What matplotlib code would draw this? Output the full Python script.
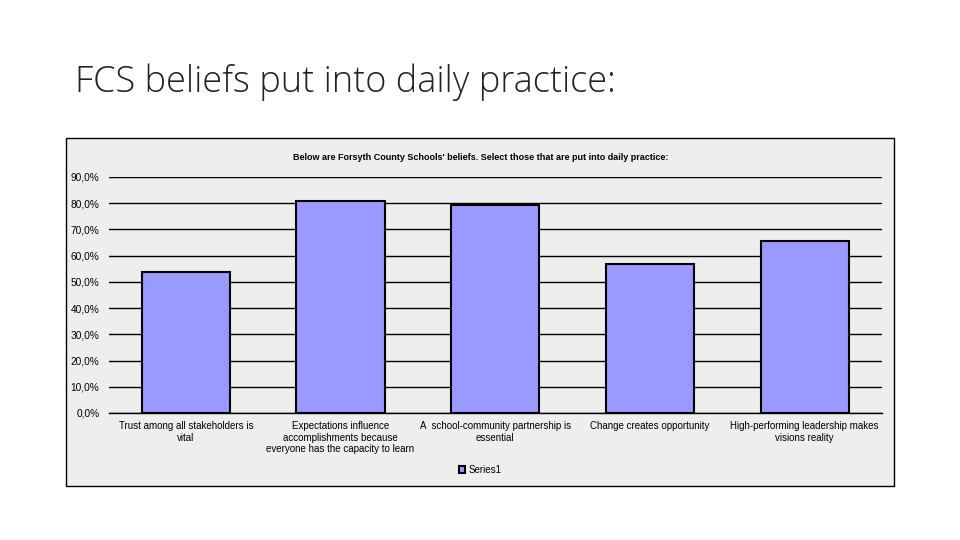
import matplotlib.pyplot as plt
import matplotlib.ticker as mticker
from matplotlib.patches import Rectangle

# data
categories = [
    "Trust among all stakeholders is\nvital",
    "Expectations influence\naccomplishments because\neveryone has the capacity to learn",
    "A  school-community partnership is\nessential",
    "Change creates opportunity",
    "High-performing leadership makes\nvisions reality",
]
values = [53.7, 81.0, 79.2, 56.7, 65.5]
series_name = "Series1"

W, H = 960, 540
fig = plt.figure(figsize=(9.6, 5.4), dpi=100)
fig.patch.set_facecolor("white")

# slide title
fig.text(75 / W, 1 - 82 / H, "FCS beliefs put into daily practice:",
         fontsize=26, family="Open Sans", fontweight="light",
         color="#222222", va="center", ha="left")

# chart frame
frame = Rectangle((66 / W, 1 - 486 / H), (894 - 66) / W, (486 - 138) / H,
                  transform=fig.transFigure, facecolor="#EEEEEE",
                  edgecolor="black", linewidth=1.0, zorder=0)
fig.patches.append(frame)

fig.text(481 / W, 1 - 157 / H,
         "Below are Forsyth County Schools' beliefs. Select those that are put into daily practice:",
         fontsize=6.5, fontweight="bold", ha="center", va="center",
         family="Liberation Sans", zorder=5)

ax = fig.add_axes([108.5 / W, 1 - 413 / H, (882 - 108.5) / W, (413 - 177) / H])
ax.set_zorder(3)
ax.patch.set_alpha(0)

x = list(range(len(categories)))
ax.bar(x, values, width=0.57, color="#9999FF", edgecolor="black",
       linewidth=1.5, zorder=3, label=series_name)

ax.set_xlim(-0.5, len(categories) - 0.5)
ax.set_ylim(0, 90)
ax.set_yticks(range(0, 91, 10))
ax.yaxis.set_major_formatter(mticker.FuncFormatter(
    lambda v, p: f"{v:.1f}%".replace(".", ",")))
ax.grid(axis="y", color="black", linewidth=1.0, zorder=0)
ax.set_axisbelow(True)
for s in ["top", "right", "left"]:
    ax.spines[s].set_visible(False)
ax.spines["bottom"].set_linewidth(1.0)
ax.tick_params(axis="y", length=0, labelsize=7.3, pad=6.5)
ax.tick_params(axis="x", length=0, labelsize=7, pad=6)
ax.set_xticks(x)
ax.set_xticklabels(categories, linespacing=1.15)
for lbl in ax.get_xticklabels() + ax.get_yticklabels():
    lbl.set_family("Liberation Sans")

leg = fig.legend(loc="center", bbox_to_anchor=(480 / W, 1 - 470 / H),
                 frameon=False, handlelength=0.7, handleheight=0.7,
                 handletextpad=0.3, prop={"family": "Liberation Sans", "size": 7})
leg.set_zorder(5)

fig.savefig("out.png", dpi=100)
